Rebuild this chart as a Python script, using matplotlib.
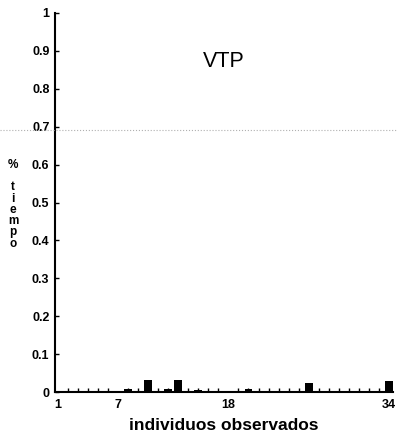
import matplotlib.pyplot as plt
from matplotlib.lines import Line2D

# Datos: proporción de tiempo en VTP por individuo observado
individuos = list(range(1, 35))
tiempo = [0, 0, 0, 0, 0, 0, 0, 0.008, 0, 0.031,
          0, 0.007, 0.032, 0, 0.006, 0, 0, 0, 0, 0.007,
          0, 0, 0, 0, 0, 0.024, 0, 0, 0, 0,
          0, 0, 0, 0.028]
etiquetas_x = [1, 7, 18, 34]
etiquetas_y = ['0', '0.1', '0.2', '0.3', '0.4', '0.5', '0.6', '0.7', '0.8', '0.9', '1']

plt.rcParams['font.family'] = ['Liberation Sans', 'DejaVu Sans']

fig = plt.figure(figsize=(3.97, 4.40), dpi=100)
ax = fig.add_axes([0.1385, 0.109, 0.852, 0.8615])

ax.bar(individuos, tiempo, width=0.75, color='black')

ax.set_xlim(0.75, 34.4)
ax.set_ylim(0, 1)

ax.set_xticks(etiquetas_x)
ax.set_xticklabels([str(v) for v in etiquetas_x], fontsize=9, fontweight='bold')
ax.set_xticks(individuos, minor=True)
ax.set_yticks([i / 10 for i in range(11)])
ax.set_yticklabels(etiquetas_y, fontsize=9, fontweight='bold')

ax.tick_params(axis='both', which='both', direction='in', length=3, width=1)
ax.tick_params(axis='x', which='major', length=0, pad=5)
ax.tick_params(axis='y', pad=4)

for lado in ['top', 'right']:
    ax.spines[lado].set_visible(False)
ax.spines['left'].set_linewidth(1.5)
ax.spines['bottom'].set_linewidth(1.5)

ax.text(0.5, 0.872, 'VTP', transform=ax.transAxes, ha='center', va='center', fontsize=15.5)

ax.set_xlabel('individuos observados', fontsize=12.5, fontweight='bold', labelpad=5)
fig.text(0.033, 0.536, '%\n\nt\ni\ne\nm\np\no', ha='center', va='center',
         fontsize=8.5, fontweight='bold', linespacing=0.92)

# línea punteada del escaneo original
fig.add_artist(Line2D([0, 1], [1 - 130 / 440, 1 - 130 / 440], transform=fig.transFigure,
                      linestyle=':', color='#b0b0b0', linewidth=0.8))

plt.savefig('out.png', dpi=100)
